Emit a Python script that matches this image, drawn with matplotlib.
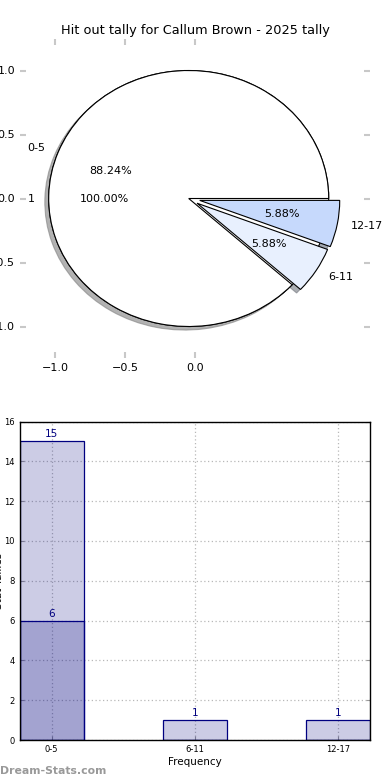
import matplotlib
matplotlib.use("Agg")
import matplotlib.pyplot as plt
import numpy as np

title = "Hit out tally for Callum Brown - 2025 tally"
categories = ["0-5", "6-11", "12-17"]
tally_all = [15, 1, 1]
tally_sub = [6, 0, 0]
pie_values = [15, 1, 1]
pie_total_label = ["1"]
pie_total_value = [1]
pie_colors = ["#ffffff", "#e8f0fe", "#c6d9fc"]

fig = plt.figure(figsize=(3.9, 7.8), dpi=100)

# ---- Pie chart ----
ax1 = fig.add_axes([20/390, 1 - 358.5/780, 350/390, 320/780])
ctr = (-0.045, 0.0)
ax1.pie(pie_total_value, labels=pie_total_label, autopct="%1.2f%%", colors=["white"],
        shadow=False, center=ctr, frame=True,
        wedgeprops=dict(edgecolor="black", linewidth=0.8),
        textprops=dict(fontsize=8))
ax1.pie(pie_values, labels=categories, autopct="%1.2f%%", colors=pie_colors,
        explode=[0, 0.07, 0.08], shadow=dict(shade=0.5, alpha=0.6), center=ctr, frame=True,
        wedgeprops=dict(edgecolor="black", linewidth=0.8),
        textprops=dict(fontsize=8))
ax1.set_aspect("auto")
ax1.set_xlim(-1.25, 1.25)
ax1.set_ylim(-1.25, 1.25)
ax1.set_xticks([-1.0, -0.5, 0.0])
ax1.set_yticks([-1.0, -0.5, 0.0, 0.5, 1.0])
for s in ax1.spines.values():
    s.set_visible(False)
ax1.tick_params(direction="in", length=4, width=1.5, color="#c8c8c8",
                labelsize=8, top=True, right=True, pad=3.5)
ax1.set_title(title, fontsize=9.3, pad=3)

# ---- Bar chart ----
ax2 = fig.add_axes([19.5/390, 1 - 740/780, 350.5/390, 318.5/780])
x = np.arange(len(categories))
w = 0.45
face = (0, 0, 0.5, 0.2)
b1 = ax2.bar(x, tally_all, width=w, color=face, edgecolor="navy", linewidth=0.9, zorder=2)
b2 = ax2.bar(x, tally_sub, width=w, color=face, edgecolor="navy", linewidth=0.9, zorder=2)
for bars, vals in ((b1, tally_all), (b2, tally_sub)):
    for r, v in zip(bars, vals):
        if v > 0:
            ax2.text(r.get_x() + r.get_width()/2, v + 0.1, str(v), ha="center",
                     va="bottom", color="navy", fontsize=7.5, zorder=3)
ax2.set_xlim(-w/2, len(categories) - 1 + w/2)
ax2.set_ylim(0, 16)
ax2.set_yticks(range(0, 17, 2))
ax2.set_xticks(x)
ax2.set_xticklabels(categories)
ax2.grid(True, linestyle=(0, (1, 2)), color="#b8b8b8", linewidth=0.9, zorder=0)
ax2.set_axisbelow(True)
ax2.tick_params(direction="in", length=3, color="#999999", labelsize=6,
                top=False, right=True)
ax2.set_xlabel("Frequency", fontsize=7.5, labelpad=2)
ax2.set_ylabel("Stat Tallies", fontsize=7.5)
ax2.yaxis.set_label_coords(-0.044, 0.5)
for s in ax2.spines.values():
    s.set_linewidth(1.0)

fig.text(0.0, 1 - 771/780, "Dream-Stats.com", fontsize=7.8, color="#999999",
         ha="left", va="center", fontweight="bold")

fig.savefig("out.png", dpi=100)
